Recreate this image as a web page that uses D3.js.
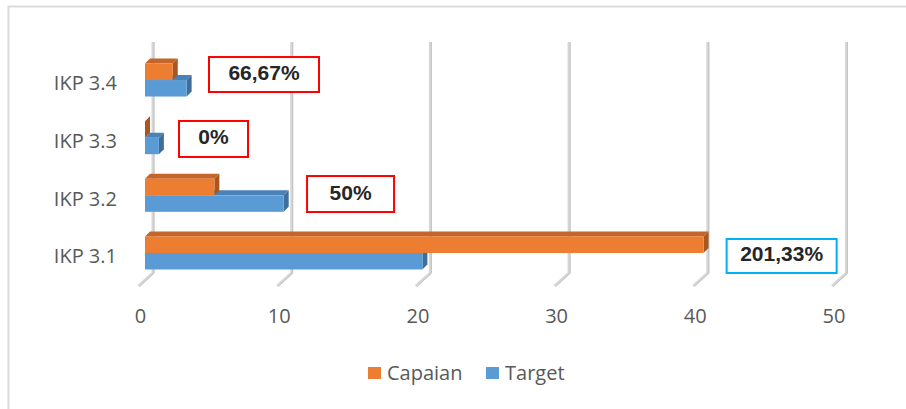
<!DOCTYPE html>
<meta charset="utf-8">
<style>
body { margin: 0; background: #fff; }
.axis path { display: none; }
.axis text { font-family: "Open Sans", sans-serif; font-size: 20px; fill: #595959; }
.legend text { font-family: "Open Sans", sans-serif; font-size: 20px; fill: #595959; }
.note text { font-family: "Liberation Sans", Arial, sans-serif; font-size: 21px; font-weight: bold; fill: #262626; }
</style>
<head>
  <script src="https://d3js.org/d3.v7.min.js"></script>
</head>
<svg width="906" height="409"></svg>
<script>

// data
var categories = ["IKP 3.1", "IKP 3.2", "IKP 3.3", "IKP 3.4"];
var capaian = [40.27, 5, 0, 2];
var target = [20, 10, 1, 3];
var xTicks = [0, 10, 20, 30, 40, 50];
var seriesNames = ["Capaian", "Target"];
var notes = ["201,33%", "50%", "0%", "66,67%"];

// note box placement (value units along x, px offset from category centre)
var noteLayout = [
  {v: 45.9, dy: 3, w: 110, h: 34, stroke: "#00b0f0"},
  {v: 14.82, dy: -1.3, w: 87, h: 36, stroke: "#ff0000"},
  {v: 4.94, dy: 1.3, w: 69, h: 36, stroke: "#ff0000"},
  {v: 8.58, dy: -5.5, w: 110, h: 35, stroke: "#ff0000"}
];

var colors = {
  Capaian: {front: "#ed7d31", top: "#c5652a", side: "#a9561f"},
  Target: {front: "#5b9bd5", top: "#4a82b8", side: "#3d6e9c"}
};

var svg = d3.select("svg");
var depth = 5, barH = 16.5;

var x = d3.scaleLinear().domain([0, 50]).range([145, 838.5]);
var y = d3.scaleBand().domain(categories.slice().reverse()).range([51.2, 281.8]);

// outer frame
svg.append("path")
    .attr("d", "M8.5,409 V6.5 H906")
    .attr("fill", "none")
    .attr("stroke", "#dcdcdc")
    .attr("stroke-width", 2);

// gridlines: back wall + floor
var grid = svg.append("g");
xTicks.forEach(function(t) {
  var wx = x(t) + 8, fx = x(t) - 6.5;
  var d = "M" + wx + ",42 V273 L" + fx + ",286";
  grid.append("path").attr("d", d).attr("fill", "none")
      .attr("stroke", "#d6d6d6").attr("stroke-width", 3).attr("stroke-linejoin", "round");
  grid.append("path").attr("d", "M" + (wx + 1) + ",42 V273 L" + (fx + 1) + ",286.5").attr("fill", "none")
      .attr("stroke", "#c4c4c4").attr("stroke-width", 1);
});

// x axis
svg.append("g")
    .attr("class", "axis")
    .attr("transform", "translate(-5,300)")
    .call(d3.axisBottom(x).tickValues(xTicks).tickSize(0).tickPadding(8.5));

// y axis
svg.append("g")
    .attr("class", "axis")
    .attr("transform", "translate(125,4)")
    .call(d3.axisLeft(y).tickSize(0).tickPadding(8))
  .selectAll("text").attr("text-anchor", "end");

function bar3d(g, x0, x1, top, bottom, c) {
  g.append("path")
      .attr("d", "M" + x0 + "," + top + " L" + (x0 + depth) + "," + (top - depth) +
                 " L" + (x1 + depth) + "," + (top - depth) + " L" + x1 + "," + top + "Z")
      .attr("fill", c.top);
  g.append("path")
      .attr("d", "M" + x1 + "," + top + " L" + (x1 + depth) + "," + (top - depth) +
                 " L" + (x1 + depth) + "," + (bottom - depth) + " L" + x1 + "," + bottom + "Z")
      .attr("fill", c.side);
  g.append("rect")
      .attr("x", x0).attr("y", top)
      .attr("width", Math.max(0, x1 - x0)).attr("height", bottom - top)
      .attr("fill", c.front);
}

var bars = svg.append("g");
categories.forEach(function(cat, i) {
  var cy = y(cat) + y.bandwidth() / 2;
  // target below, drawn first
  bar3d(bars, x(0), x(target[i]), cy, cy + barH, colors.Target);
  bar3d(bars, x(0), x(capaian[i]), cy - barH, cy, colors.Capaian);
});

// note boxes
var note = svg.append("g").attr("class", "note");
categories.forEach(function(cat, i) {
  var L = noteLayout[i];
  var cx = x(L.v), cy = y(cat) + y.bandwidth() / 2 + L.dy;
  note.append("rect")
      .attr("x", cx - L.w / 2).attr("y", cy - L.h / 2)
      .attr("width", L.w).attr("height", L.h)
      .attr("fill", "#fff").attr("stroke", L.stroke).attr("stroke-width", 2);
  note.append("text")
      .attr("x", cx).attr("y", cy + 5.5)
      .attr("text-anchor", "middle")
      .text(notes[i]);
});

// legend
var legend = svg.append("g").attr("class", "legend");
var legX = [368, 486];
seriesNames.forEach(function(s, i) {
  legend.append("rect")
      .attr("x", legX[i]).attr("y", 367)
      .attr("width", 13).attr("height", 12)
      .attr("fill", colors[s].front);
  legend.append("text")
      .attr("x", legX[i] + 19).attr("y", 380)
      .text(s);
});

</script>
